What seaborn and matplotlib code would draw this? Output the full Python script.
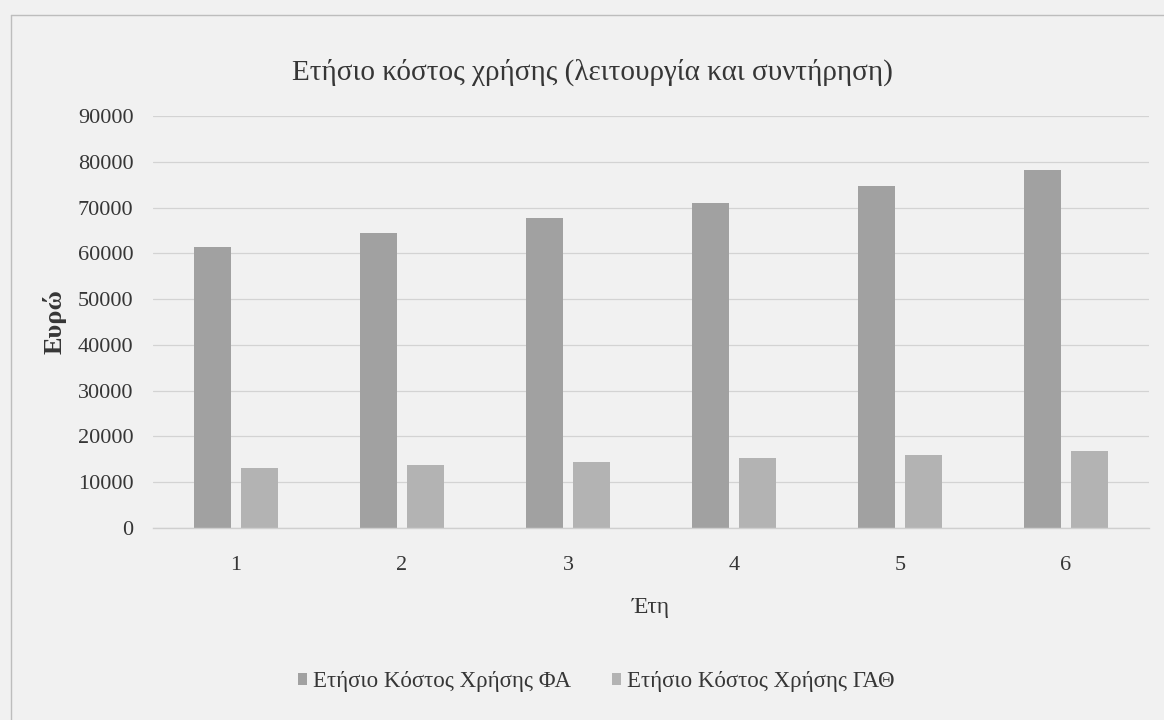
import matplotlib
matplotlib.use("Agg")
import matplotlib.pyplot as plt
from matplotlib.lines import Line2D
import seaborn as sns
import pandas as pd

# Data
years = ["1", "2", "3", "4", "5", "6"]
cost_fa = [61300, 64500, 67800, 71000, 74800, 78300]
cost_gath = [13100, 13800, 14400, 15200, 15900, 16900]
series_names = ["Ετήσιο Κόστος Χρήσης ΦΑ", "Ετήσιο Κόστος Χρήσης ΓΑΘ"]
y_ticks = [0, 10000, 20000, 30000, 40000, 50000, 60000, 70000, 80000, 90000]

title_text = "Ετήσιο κόστος χρήσης (λειτουργία και συντήρηση)"
x_label = "Έτη"
y_label = "Ευρώ"

df = pd.DataFrame({
    "year": years * 2,
    "value": cost_fa + cost_gath,
    "series": [series_names[0]] * len(years) + [series_names[1]] * len(years),
})

sns.set_theme(style="white")
plt.rcParams["font.family"] = ["Liberation Serif", "DejaVu Serif"]

bg = "#f1f1f1"
text_col = "#363636"
fig = plt.figure(figsize=(11.64, 7.2), dpi=100, facecolor=bg)
ax = fig.add_axes([153 / 1164, 1 - 528 / 720, (1149 - 153) / 1164, (528 - 116) / 720])
ax.set_facecolor(bg)

sns.barplot(
    data=df, x="year", y="value", hue="series", order=years,
    hue_order=series_names, palette=["#a1a1a1", "#b3b3b3"],
    width=0.566, gap=0.21, saturation=1, errorbar=None, linewidth=0, ax=ax,
)

ax.set_ylim(0, 90000)
ax.set_yticks(y_ticks)
ax.set_yticklabels([str(v) for v in y_ticks])
ax.yaxis.grid(True, color="#d3d3d3", linewidth=0.9)
ax.set_axisbelow(True)
for side in ["top", "right", "left"]:
    ax.spines[side].set_visible(False)
ax.spines["bottom"].set_color("#cfcfcf")
ax.spines["bottom"].set_linewidth(1.0)
ax.tick_params(axis="both", length=0, labelsize=16, colors=text_col)
ax.tick_params(axis="y", pad=14)
ax.tick_params(axis="x", pad=20)

ax.set_xlabel(x_label, fontsize=17, color=text_col, labelpad=16)
ax.set_ylabel(y_label, fontsize=19, fontweight="bold", color=text_col, labelpad=8)

fig.text(592 / 1164, 1 - 72 / 720, title_text, ha="center", va="center",
         fontsize=21, color=text_col)

handles, labels = ax.get_legend_handles_labels()
ax.legend_.remove()
fig.legend(
    handles, labels, loc="center", bbox_to_anchor=(596 / 1164, 1 - 682 / 720),
    ncol=2, frameon=False, fontsize=16.5, handlelength=0.4, handleheight=0.45,
    handletextpad=0.25, columnspacing=1.8, labelcolor=text_col,
)

# Thin frame lines around the chart area
frame_col = "#bdbdbd"
fig.add_artist(Line2D([11 / 1164, 1.0], [1 - 15 / 720, 1 - 15 / 720],
                      color=frame_col, linewidth=1.0))
fig.add_artist(Line2D([11 / 1164, 11 / 1164], [0.0, 1 - 15 / 720],
                      color=frame_col, linewidth=1.0))

fig.savefig("out.png", dpi=100, facecolor=bg)
